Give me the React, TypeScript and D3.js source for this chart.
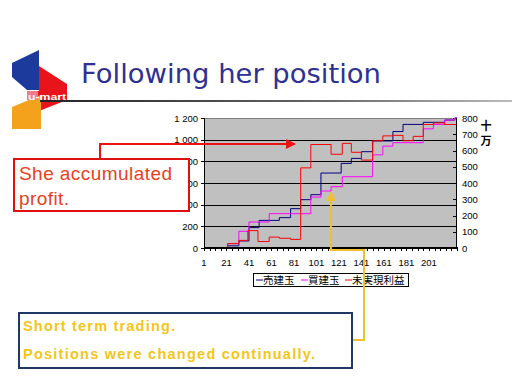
import React from "react";
import * as d3 from "d3";

// Step change points (day index) and values
const sellT = [1, 22, 32, 41, 50, 68, 78, 87, 96, 105, 123, 132, 141, 151, 169, 178, 196, 215, 224, 226];
const sellV = [0, 20, 65, 188, 255, 280, 363, 446, 492, 692, 781, 827, 889, 988, 1075, 1141, 1160, 1181, 1200, 1200];

const buyT = [1, 22, 32, 41, 59, 96, 105, 114, 124, 151, 160, 169, 196, 205, 215, 224, 226];
const buyV = [0, 40, 154, 240, 317, 470, 526, 566, 658, 860, 940, 972, 1100, 1141, 1181, 1200, 1200];

// unrealized profit, right axis (十万)
const profitT = [1, 22, 32, 40, 49, 59, 68, 78, 87, 96, 114, 124, 132, 141, 151, 160, 169, 178, 187, 196, 205, 215, 226];
const profitV = [0, 27, 47, 107, 40, 67, 60, 53, 493, 637, 577, 644, 589, 541, 660, 690, 693, 660, 687, 760, 770, 760, 760];

const xTickLabels = [1, 21, 41, 61, 81, 101, 121, 141, 161, 181, 201];
const leftTicks = [0, 200, 400, 600, 800, 1000, 1200];
const rightTicks = [0, 100, 200, 300, 400, 500, 600, 700, 800];
const legendNames = ["売建玉", "買建玉", "未実現利益"];
const seriesColors = ["#000080", "#ff00ff", "#ff0000"];

export default function App() {
  const x = d3.scaleLinear().domain([1, 226]).range([204, 457]);
  const yL = d3.scaleLinear().domain([0, 1200]).range([248, 118]);
  const yR = d3.scaleLinear().domain([0, 800]).range([248, 118]);
  const lineL = d3
    .line<[number, number]>()
    .x((d) => x(d[0]))
    .y((d) => yL(d[1]))
    .curve(d3.curveStepAfter);
  const lineR = d3
    .line<[number, number]>()
    .x((d) => x(d[0]))
    .y((d) => yR(d[1]))
    .curve(d3.curveStepAfter);
  const sellPts = sellT.map((t, i) => [t, sellV[i]] as [number, number]);
  const buyPts = buyT.map((t, i) => [t, buyV[i]] as [number, number]);
  const profPts = profitT.map((t, i) => [t, profitV[i]] as [number, number]);
  const minorTicks = d3.range(1, 227, 5);
  const font = "'Liberation Sans', Arial, sans-serif";
  const cjk = "'Noto Sans CJK JP', sans-serif";

  return (
    <svg
      width={512}
      height={384}
      style={{ position: "absolute", left: 0, top: 0, background: "#fff" }}
    >
      <defs>
        <linearGradient id="rule" x1="0" x2="1" y1="0" y2="0">
          <stop offset="0" stopColor="#222" />
          <stop offset="0.6" stopColor="#666" />
          <stop offset="1" stopColor="#bbb" />
        </linearGradient>
        <marker id="arrR" viewBox="0 0 10 10" refX="9" refY="5" markerWidth="5" markerHeight="5" orient="auto">
          <path d="M0,0 L10,5 L0,10 z" fill="#ee1111" />
        </marker>
        <marker id="arrY" viewBox="0 0 10 10" refX="9" refY="5" markerWidth="5" markerHeight="5" orient="auto">
          <path d="M0,0 L10,5 L0,10 z" fill="#f0c030" />
        </marker>
      </defs>

      {/* logo */}
      <polygon points="12,63 39,50 39,90 27,90 12,77" fill="#1c3a9c" />
      <polygon points="39,66 67,84 67,100 39,111 39,100 27,100 27,91 39,91" fill="#e8141c" />
      <polygon points="12,107 41,95 41,129 12,129" fill="#f4a21c" />
      <rect x={27} y={91} width={11} height={9} fill="#f27b8a" />
      <text x={28} y={99.5} fill="#fff" fontFamily={font} fontWeight="bold" fontSize={9} textLength={38} lengthAdjust="spacingAndGlyphs">
        u-mart
      </text>

      {/* title */}
      <text x={81} y={83} fill="#2e3092" fontFamily="'DejaVu Sans', Verdana, sans-serif" fontSize={27} textLength={300} lengthAdjust="spacingAndGlyphs">
        Following her position
      </text>
      <rect x={40} y={100} width={472} height={2} fill="url(#rule)" />

      {/* plot area */}
      <rect x={204} y={118} width={253} height={130} fill="#c0c0c0" />
      <line x1={204} x2={457} y1={118.5} y2={118.5} stroke="#808080" />
      {leftTicks.slice(1, 6).map((v) => (
        <line key={v} x1={204} x2={457} y1={Math.round(yL(v)) + 0.5} y2={Math.round(yL(v)) + 0.5} stroke="#000" />
      ))}
      {leftTicks.map((v) => (
        <g key={"l" + v}>
          <line x1={201} x2={205} y1={Math.round(yL(v)) + 0.5} y2={Math.round(yL(v)) + 0.5} stroke="#000" />
          <text x={198} y={yL(v) + 3.5} textAnchor="end" fontFamily={font} fontSize={9.5} fill="#000">
            {v >= 1000 ? d3.format(",")(v).replace(",", " ") : v}
          </text>
        </g>
      ))}
      {rightTicks.map((v) => (
        <g key={"r" + v}>
          <line x1={453} x2={457} y1={Math.round(yR(v)) + 0.5} y2={Math.round(yR(v)) + 0.5} stroke="#000" />
          <text x={462} y={yR(v) + 3.5} fontFamily={font} fontSize={9.5} fill="#000">
            {v}
          </text>
        </g>
      ))}
      <text x={486} y={130} textAnchor="middle" fontFamily={cjk} fontWeight="bold" fontSize={11}>十</text>
      <text x={486} y={145} textAnchor="middle" fontFamily={cjk} fontWeight="bold" fontSize={11}>万</text>

      {/* series */}
      <path d={lineL(sellPts) || ""} fill="none" stroke={seriesColors[0]} strokeWidth={1} />
      <path d={lineL(buyPts) || ""} fill="none" stroke={seriesColors[1]} strokeWidth={1} />
      <path d={lineR(profPts) || ""} fill="none" stroke={seriesColors[2]} strokeWidth={1} />

      {/* axes lines */}
      <line x1={204.5} x2={204.5} y1={118} y2={249} stroke="#000" />
      <line x1={456.5} x2={456.5} y1={118} y2={249} stroke="#000" />
      <line x1={204} x2={457} y1={248} y2={248} stroke="#000" strokeWidth={2} />
      {minorTicks.map((t) => (
        <line key={"t" + t} x1={Math.round(x(t)) + 0.5} x2={Math.round(x(t)) + 0.5} y1={247} y2={251} stroke="#000" />
      ))}
      {xTickLabels.map((t) => (
        <text key={"x" + t} x={x(t)} y={266} textAnchor="middle" fontFamily={font} fontSize={9.5}>
          {t}
        </text>
      ))}

      {/* legend */}
      <rect x={253.5} y={273.5} width={155} height={13} fill="#fff" stroke="#000" />
      {legendNames.map((n, i) => {
        const lx = [256, 301, 345][i];
        return (
          <g key={n}>
            <line x1={lx} x2={lx + 7} y1={280} y2={280} stroke={seriesColors[i]} />
            <text x={lx + 7} y={284} fontFamily={cjk} fontSize={10.5}>
              {n}
            </text>
          </g>
        );
      })}

      {/* red annotation */}
      <polyline points="100,158 100,144 295,144" fill="none" stroke="#ee1111" strokeWidth={2} markerEnd="url(#arrR)" />
      <rect x={14} y={159} width={175} height={52} fill="#fff" stroke="#e01010" strokeWidth={2} />
      <text x={19} y={180} fill="#e8401c" fontFamily={font} fontSize={19} textLength={153} lengthAdjust="spacing">She accumulated</text>
      <text x={19} y={205} fill="#e8401c" fontFamily={font} fontSize={19} textLength={50} lengthAdjust="spacing">profit.</text>

      {/* yellow annotation */}
      <polyline points="352,340 364,340 364,250 331,250 331,192" fill="none" stroke="#f0c030" strokeWidth={2} markerEnd="url(#arrY)" />
      <rect x={19} y={313} width={333} height={55} fill="#fff" stroke="#1f3864" strokeWidth={2} />
      <text x={23} y={331} fill="#f5c518" fontFamily={font} fontWeight="bold" fontSize={14.5} textLength={152} lengthAdjust="spacing">Short term trading.</text>
      <text x={23} y={359} fill="#f5c518" fontFamily={font} fontWeight="bold" fontSize={14.5} textLength={292} lengthAdjust="spacing">Positions were changed continually.</text>
    </svg>
  );
}
